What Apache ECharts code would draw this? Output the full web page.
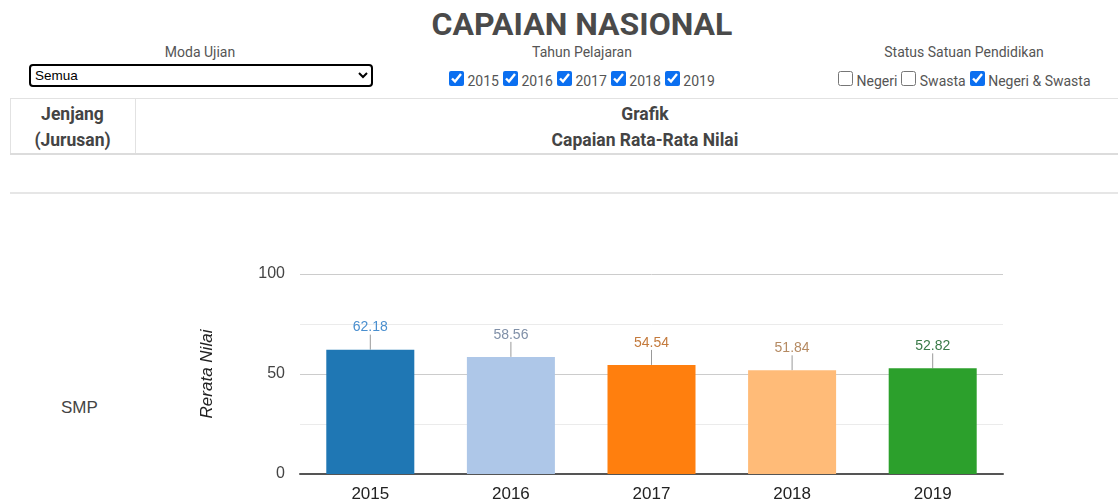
<!DOCTYPE html>
<html>
<head>
<meta charset="utf-8">
<script src="https://cdn.jsdelivr.net/npm/echarts/dist/echarts.min.js"></script>
<style>
  body { margin: 0; width: 1118px; height: 504px; overflow: hidden; position: relative;
         font-family: Roboto, sans-serif; color: #444; background: #fff; }
  .a { position: absolute; }
  .title { left: 0; width: 1164px; top: 4px; text-align: center; font-size: 32px; font-weight: bold;
           line-height: 40px; color: #4a4a4a; }
  .lbl { font-size: 14px; color: #555; text-align: center; width: 382px; top: 42px; line-height: 20px; }
  .row { font-size: 14px; color: #555; top: 71px; line-height: 20px; white-space: nowrap; }
  .row input { width: 15px; height: 15px; margin: 0 0 0 4px; vertical-align: baseline;
               position: relative; top: 0px; accent-color: #0b6ff0; }
  select { position: absolute; left: 29px; top: 64px; width: 344px; height: 23px; border: 2px solid #000;
           border-radius: 4px; font: 13.5px Arial, sans-serif; background: #fff; color: #000; padding: 0; }
  .hline { left: 10px; width: 1145px; background: #e2e2e2; }
  .vline { width: 1px; background: #e2e2e2; top: 98px; height: 56px; }
  .th { font-size: 17.5px; font-weight: bold; line-height: 26px; text-align: center; color: #444; top: 101px; }
  #chart { position: absolute; left: 140px; top: 195px; width: 978px; height: 330px; }
</style>
</head>
<body>
<div class="a title">CAPAIAN NASIONAL</div>

<div class="a lbl" style="left:9px">Moda Ujian</div>
<select><option>Semua</option></select>

<div class="a lbl" style="left:391px">Tahun Pelajaran</div>
<div class="a row" style="left:445px"><input type="checkbox" checked> 2015<input type="checkbox" checked> 2016<input type="checkbox" checked> 2017<input type="checkbox" checked> 2018<input type="checkbox" checked> 2019</div>

<div class="a lbl" style="left:773px">Status Satuan Pendidikan</div>
<div class="a row" style="left:834px"><input type="checkbox"> Negeri<input type="checkbox"> Swasta<input type="checkbox" checked> Negeri &amp; Swasta</div>

<div class="a hline" style="top:98px;height:1px"></div>
<div class="a vline" style="left:10px"></div>
<div class="a vline" style="left:135px"></div>
<div class="a th" style="left:10px;width:125px">Jenjang<br>(Jurusan)</div>
<div class="a th" style="left:135px;width:1020px">Grafik<br>Capaian Rata-Rata Nilai</div>
<div class="a hline" style="top:153px;height:2px;background:#dcdcdc"></div>
<div class="a hline" style="top:192px;height:2px;background:#e6e6e6"></div>

<div class="a" style="left:61px;top:398px;font-size:17px;line-height:20px;color:#444;font-family:Arial,sans-serif">SMP</div>

<div id="chart"></div>

<script>
// data
var years = ['2015', '2016', '2017', '2018', '2019']
var nilai = [62.18, 58.56, 54.54, 51.84, 52.82]
var barColors = ['#1f77b4', '#aec7e8', '#ff7f0e', '#ffbb78', '#2ca02c']
var labelColors = ['#4a8fcf', '#8090a8', '#c47a3c', '#b58a62', '#3a7a48']

var myChart = echarts.init(document.getElementById('chart'))

var option = {
  animation: false,
  textStyle: { fontFamily: 'Arial, Liberation Sans, sans-serif' },
  grid: { left: 160, width: 703, top: 79, bottom: 51 },
  xAxis: {
    type: 'category',
    data: years,
    axisTick: { show: false },
    axisLine: { lineStyle: { color: '#555', width: 2 } },
    axisLabel: { fontSize: 17, color: '#222', margin: 12 }
  },
  yAxis: {
    type: 'value',
    min: 0,
    max: 100,
    interval: 50,
    name: 'Rerata Nilai',
    nameLocation: 'middle',
    nameGap: 84,
    nameTextStyle: { fontSize: 17, fontStyle: 'italic', color: '#222' },
    axisLine: { show: false },
    axisTick: { show: false },
    axisLabel: { fontSize: 16, color: '#444', margin: 15 },
    splitLine: { lineStyle: { color: '#ccc', width: 1 } },
    minorTick: { show: false, splitNumber: 2 },
    minorSplitLine: { show: true, lineStyle: { color: '#ebebeb', width: 1 } }
  },
  series: [
    {
      type: 'bar',
      barWidth: '62.6%',
      data: nilai.map(function (v, i) {
        return {
          value: v,
          itemStyle: { color: barColors[i] },
          label: { color: labelColors[i] }
        }
      }),
      label: {
        show: true,
        position: 'top',
        distance: 1,
        fontSize: 14,
        formatter: function (p) { return p.value.toFixed(2) }
      },
      labelLayout: { dy: -14 },
      labelLine: { show: true, lineStyle: { color: '#999', width: 1 } }
    }
  ]
}
myChart.setOption(option)
</script>
</body>
</html>
